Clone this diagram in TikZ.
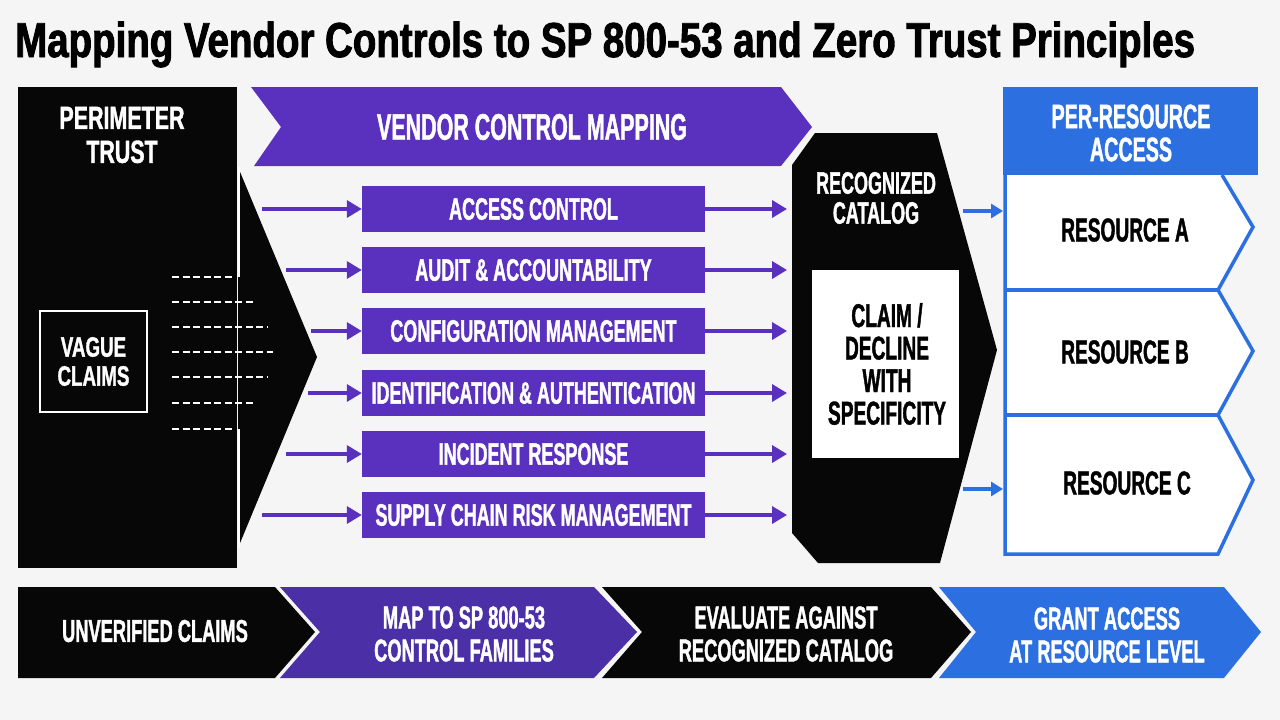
\documentclass[tikz,border=0pt]{standalone}
\usepackage{fontspec}
\newfontfamily\cond[FakeStretch=0.58, FakeBold=1.2]{Liberation Sans}
\newfontfamily\condwide[FakeStretch=0.67, FakeBold=1.2]{Liberation Sans}
\newfontfamily\condhead[FakeStretch=0.785, FakeBold=1.8]{Liberation Sans}
\usetikzlibrary{arrows.meta,positioning}
\definecolor{vpurple}{HTML}{5A30BE}
\definecolor{vpurpledk}{HTML}{4A2FA6}
\definecolor{zblue}{HTML}{2B6FE0}
\definecolor{inkblack}{HTML}{070707}
\definecolor{paper}{HTML}{F5F5F5}
\newcommand{\fsz}[2]{\fontsize{#1}{#2}\selectfont}
\tikzset{
  whiteText/.style={text=white, align=center, inner sep=0pt},
  famBox/.style={fill=vpurple, text=white, minimum width=343pt, minimum height=46pt,
    inner sep=0pt, font=\cond\bfseries\fsz{31}{33}},
  famArrow/.style={draw=vpurple, line width=3.5pt, -{Triangle[length=15pt,width=17pt]}},
  resArrow/.style={draw=zblue, line width=3.5pt, -{Triangle[length=12pt,width=14pt]}},
  claimDash/.style={white, line width=2.2pt, dash pattern=on 7pt off 3.5pt},
  resLine/.style={draw=zblue, line width=3.5pt, line join=miter},
  stepText/.style={text=white, align=center, inner sep=0pt, font=\cond\bfseries\fsz{31.5}{33}},
}
\begin{document}
\begin{tikzpicture}[x=1pt, y=-1pt]
  \useasboundingbox (0,0) rectangle (1280,720);
  \fill[paper] (0,0) rectangle (1280,720);

  % title
  \node[anchor=base west, inner sep=0pt, font=\condhead\bfseries\fsz{49}{55}] (title) at (15,57)
    {Mapping Vendor Controls to SP 800-53 and Zero Trust Principles};

  % perimeter trust block
  \fill[inkblack] (18,87) rectangle (237,568);
  \fill[inkblack] (238,167) -- (317,357) -- (238,548) -- cycle;
  \draw[white, line width=2pt] (239,167) -- (239,277);
  \draw[white, line width=2pt] (239,429) -- (239,548);
  \node[whiteText, font=\condwide\bfseries\fsz{32}{34}] (perim) at (122,135) {PERIMETER\\TRUST};
  \node[draw=white, line width=2.5pt, minimum width=107pt, minimum height=101pt,
        whiteText, font=\condwide\bfseries\fsz{28}{29}] (vague) at (93.5,361.5) {VAGUE\\CLAIMS};
  \foreach \y/\x in {277/233, 302/255, 327/267, 352/273, 377/267, 403/255, 429/233}
    \draw[claimDash] (172,\y) -- (\x,\y);

  % vendor control mapping banner
  \fill[vpurple] (251,87) -- (781,87) -- (812,127) -- (781,166) -- (254,166) -- (281,127) -- cycle;
  \node[whiteText, font=\cond\bfseries\fsz{37}{40}] (vcm) at (532,127) {VENDOR CONTROL MAPPING};

  % control families
  \node[famBox] (ac) at (533.5,209) {ACCESS CONTROL};
  \node[famBox] (au) at (533.5,270) {AUDIT \& ACCOUNTABILITY};
  \node[famBox] (cm) at (533.5,331) {CONFIGURATION MANAGEMENT};
  \node[famBox] (ia) at (533.5,393) {IDENTIFICATION \& AUTHENTICATION};
  \node[famBox] (ir) at (533.5,454) {INCIDENT RESPONSE};
  \node[famBox] (sr) at (533.5,515) {SUPPLY CHAIN RISK MANAGEMENT};

  \coordinate (catL) at (787,0);
  \foreach \fam/\x in {ac/262, au/286, cm/311, ia/308, ir/286, sr/262} {
    \coordinate (\fam In) at (\x,0);
    \draw[famArrow] (\fam.west -| \fam In) -- (\fam.west);
    \draw[famArrow] (\fam.east) -- (\fam.east -| catL);
  }

  % recognized catalog
  \fill[inkblack] (792,165) -- (815,133) -- (937,133) -- (997,350) -- (940,563) -- (818,563) -- (792,533) -- cycle;
  \node[whiteText, font=\cond\bfseries\fsz{31}{30}] (cat) at (876,198) {RECOGNIZED\\CATALOG};
  \node[fill=white, minimum width=147pt, minimum height=188pt, inner sep=0pt] (claimbox) at (885.5,364) {};
  \node[align=center, inner sep=0pt, font=\cond\bfseries\fsz{33}{32.5}] (claim) at (887,364)
    {CLAIM /\\DECLINE\\WITH\\SPECIFICITY};

  % per-resource access
  \node[fill=zblue, minimum width=255pt, minimum height=88pt, inner sep=0pt] (prabox) at (1130.5,131) {};
  \node[whiteText, font=\cond\bfseries\fsz{34}{33}] (pra) at (1131,133) {PER-RESOURCE\\ACCESS};
  \fill[white] (1005,175) -- (1005,554) -- (1218,554) -- (1253,480) -- (1218,415) -- (1253,351)
    -- (1218,290) -- (1253,227) -- (1222,175) -- cycle;
  \draw[resLine] (1005,175) -- (1005,554) -- (1218,554) -- (1253,480) -- (1218,415) -- (1253,351)
    -- (1218,290) -- (1253,227) -- (1222,175);
  \draw[resLine] (1005,290) -- (1218,290);
  \draw[resLine] (1005,415) -- (1218,415);
  \node[inner sep=0pt, font=\cond\bfseries\fsz{33}{32}] (resA) at (1125,230) {RESOURCE A};
  \node[inner sep=0pt, font=\cond\bfseries\fsz{33}{32}] (resB) at (1125,352) {RESOURCE B};
  \node[inner sep=0pt, font=\cond\bfseries\fsz{33}{32}] (resC) at (1127,483) {RESOURCE C};
  \coordinate (catA) at (963,211);
  \coordinate (catC) at (963,489);
  \coordinate (resL) at (1003,0);
  \draw[resArrow] (catA) -- (catA -| resL);
  \draw[resArrow] (catC) -- (catC -| resL);

  % process steps
  \fill[inkblack] (18,587) -- (275,587) -- (315,632) -- (275,678) -- (18,678) -- cycle;
  \fill[vpurpledk] (280,587) -- (594,587) -- (637,632) -- (594,678) -- (280,678) -- (320,632) -- cycle;
  \fill[inkblack] (602,587) -- (931,587) -- (971,632) -- (931,678) -- (602,678) -- (642,632) -- cycle;
  \fill[zblue] (939,587) -- (1224,587) -- (1261,632) -- (1224,678) -- (939,678) -- (976,632) -- cycle;
  \node[stepText] (step1) at (155,631) {UNVERIFIED CLAIMS};
  \node[stepText] (step2) at (464,634) {MAP TO SP 800-53\\CONTROL FAMILIES};
  \node[stepText] (step3) at (786,634) {EVALUATE AGAINST\\RECOGNIZED CATALOG};
  \node[stepText] (step4) at (1107,635) {GRANT ACCESS\\AT RESOURCE LEVEL};
\end{tikzpicture}
\end{document}
